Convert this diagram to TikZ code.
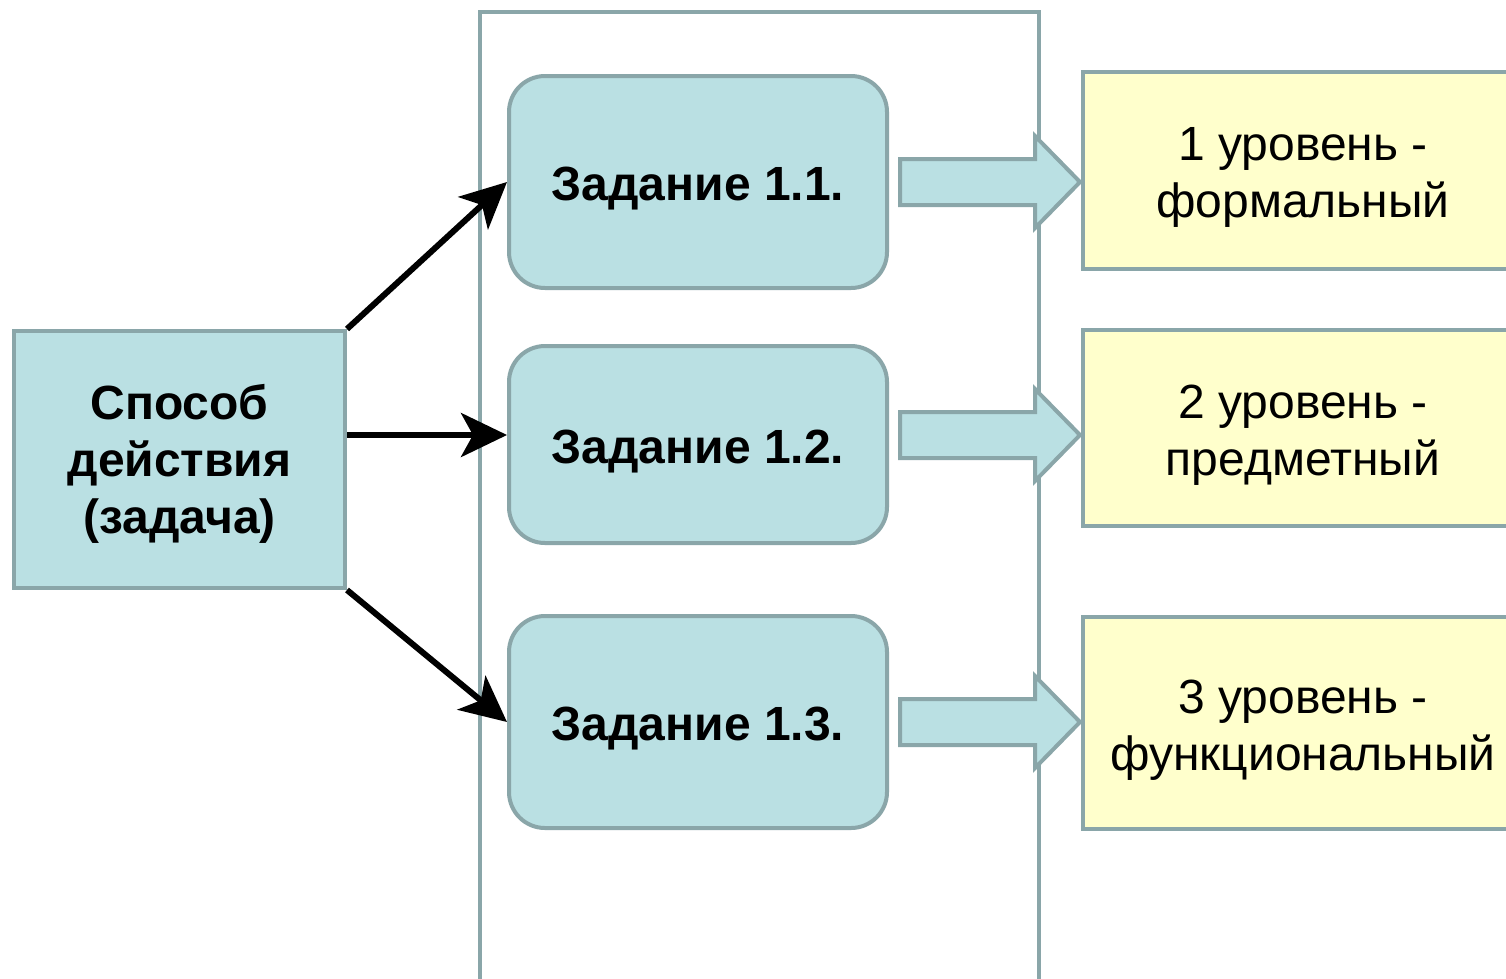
\documentclass[tikz,border=0pt]{standalone}
\usepackage{fontspec}
\setmainfont{Liberation Sans}
\usetikzlibrary{arrows.meta}
\definecolor{tealfill}{HTML}{BAE0E3}
\definecolor{tealline}{HTML}{8AA6A9}
\definecolor{yelfill}{HTML}{FFFFCC}
\newcommand{\pushdown}[1]{\rule{0pt}{#1}}
\tikzset{
  srcbox/.style={draw=tealline, fill=tealfill, line width=4pt, align=center, font=\fontsize{48}{57}\selectfont\bfseries},
  taskbox/.style={draw=tealline, fill=tealfill, line width=4pt, rounded corners=36pt, align=center, font=\fontsize{48}{57}\selectfont\bfseries},
  levelbox/.style={draw=tealline, fill=yelfill, line width=4pt, align=center, font=\fontsize{48}{57}\selectfont},
  blockarrow/.style={draw=tealline, fill=tealfill, line width=4pt, line join=miter},
  conn/.style={line width=6pt, -{Stealth[length=46pt,width=44pt,inset=12pt]}}
}
\begin{document}
\begin{tikzpicture}[x=1pt,y=-1pt]
\useasboundingbox (0,0) rectangle (1506,978);
% container
\draw[tealline, line width=4pt, fill=white] (480,990) -- (480,12) -- (1039,12) -- (1039,990);
% source
\node[srcbox, minimum width=331pt, minimum height=257pt, inner sep=0pt] (src) at (179.5,459.5) {\pushdown{44pt}Способ\\действия\\(задача)};
% tasks
\node[taskbox, minimum width=378pt, minimum height=212pt, inner sep=0pt] (t1) at (698,182) {\pushdown{47pt}Задание 1.1.};
\node[taskbox, minimum width=378pt, minimum height=197pt, inner sep=0pt] (t2) at (698,444.5) {\pushdown{47pt}Задание 1.2.};
\node[taskbox, minimum width=378pt, minimum height=212pt, inner sep=0pt] (t3) at (698,722) {\pushdown{47pt}Задание 1.3.};
% levels
\node[levelbox, minimum width=440pt, minimum height=197pt, inner sep=0pt] (l1) at (1303,170.5) {\pushdown{47pt}1 уровень -\\формальный};
\node[levelbox, minimum width=440pt, minimum height=196pt, inner sep=0pt] (l2) at (1303,428) {\pushdown{47pt}2 уровень -\\предметный};
\node[levelbox, minimum width=440pt, minimum height=212pt, inner sep=0pt] (l3) at (1303,723) {\pushdown{47pt}3 уровень -\\функциональный};
% block arrows
\foreach \n/\yc in {1/182, 2/435, 3/722}{
  \draw[blockarrow] (900,\yc-23) -- (1035,\yc-23) -- (1035,\yc-46) -- (1080,\yc) -- (1035,\yc+46) -- (1035,\yc+23) -- (900,\yc+23) -- cycle;
}
% connectors
\coordinate (s1) at (src.north east);
\coordinate (s3) at (src.south east);
\coordinate (e2) at ([yshift=9.5pt]t2.west);
\draw[conn] (s1) -- (t1.west);
\draw[conn] (src.east |- e2) -- (e2);
\draw[conn] (s3) -- (t3.west);
\end{tikzpicture}
\end{document}
